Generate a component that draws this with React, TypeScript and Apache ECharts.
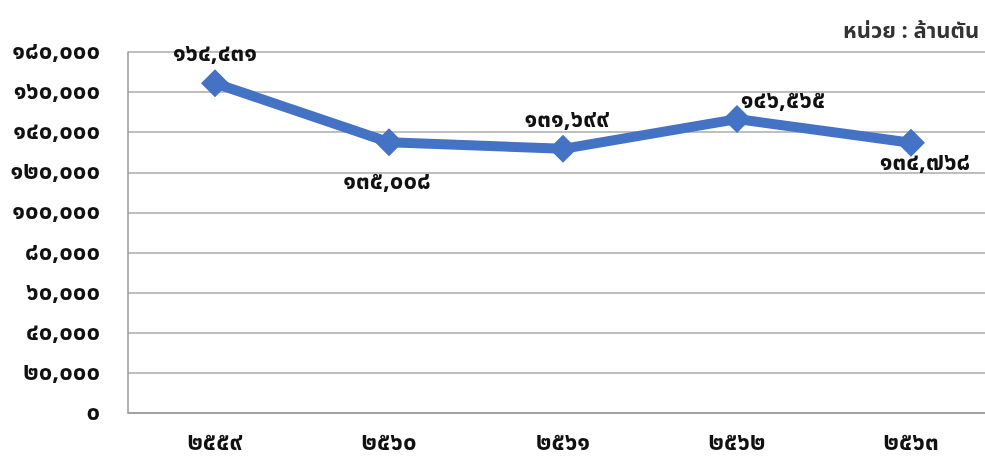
import React, { useEffect, useRef } from "react";
import * as echarts from "echarts";

const categories = ["๒๕๕๙", "๒๕๖๐", "๒๕๖๑", "๒๕๖๒", "๒๕๖๓"];
const values = [164431, 135008, 131699, 146565, 134768];
const labelPositions = ["top", "bottom", "top", "top", "bottom"];
const labelOffsets = [[0, 11], [-2, 0], [4, 11], [46, 22], [14, -20]];
const unitText = "หน่วย : ล้านตัน";

const thaiDigits = ["๐", "๑", "๒", "๓", "๔", "๕", "๖", "๗", "๘", "๙"];
const toThai = (n: number) =>
  n
    .toLocaleString("en-US")
    .replace(/[0-9]/g, (d) => thaiDigits[Number(d)]);

const FONT = "Tahoma, 'Noto Sans Thai', 'Leelawadee UI', 'DejaVu Sans', sans-serif";

export default function App() {
  const ref = useRef<HTMLDivElement>(null);
  useEffect(() => {
    if (!ref.current) return;
    const chart = echarts.init(ref.current, null, { renderer: "svg" });
    chart.setOption({
      animation: false,
      textStyle: { fontFamily: FONT },
      graphic: [
        {
          type: "text",
          left: 843,
          top: 20,
          style: { text: unitText, fontSize: 22, fill: "#333", fontFamily: FONT, fontWeight: "bold" },
        },
      ],
      grid: { left: 128, top: 52, width: 870, height: 361, containLabel: false, outerBoundsMode: "none" },
      xAxis: {
        type: "category",
        data: categories,
        boundaryGap: true,
        axisLine: { show: true, lineStyle: { color: "#999", width: 1.5 } },
        axisTick: { show: false },
        axisLabel: {
          color: "#111",
          fontSize: 24,
          lineHeight: 20,
          fontWeight: "bold",
          margin: 20,
          fontFamily: FONT,
        },
      },
      yAxis: {
        type: "value",
        min: 0,
        max: 180000,
        interval: 20000,
        axisLine: { show: true, lineStyle: { color: "#999", width: 1.5 } },
        axisTick: { show: false },
        splitLine: { lineStyle: { color: "#aaa", width: 1.5 } },
        axisLabel: {
          color: "#111",
          fontSize: 24,
          fontWeight: "bold",
          margin: 28,
          fontFamily: FONT,
          formatter: (v: number) => toThai(v),
        },
      },
      series: [
        {
          type: "line",
          data: values.map((v, i) => ({
            value: v,
            label: {
              show: true,
              position: labelPositions[i],
              offset: labelOffsets[i],
              distance: 14,
            },
          })),
          lineStyle: { color: "#4472C4", width: 10 },
          itemStyle: { color: "#4472C4" },
          symbol: "diamond",
          symbolSize: 28,
          label: {
            show: true,
            color: "#111",
            fontSize: 24,
            fontWeight: "bold",
            fontFamily: FONT,
            formatter: (p: any) => toThai(p.value),
          },
        },
      ],
    });
    return () => chart.dispose();
  }, []);
  return (
    <div style={{ position: "fixed", left: 0, top: 0, width: 985, height: 461, overflow: "hidden" }}>
      <div ref={ref} style={{ width: 1000, height: 461 }} />
    </div>
  );
}
